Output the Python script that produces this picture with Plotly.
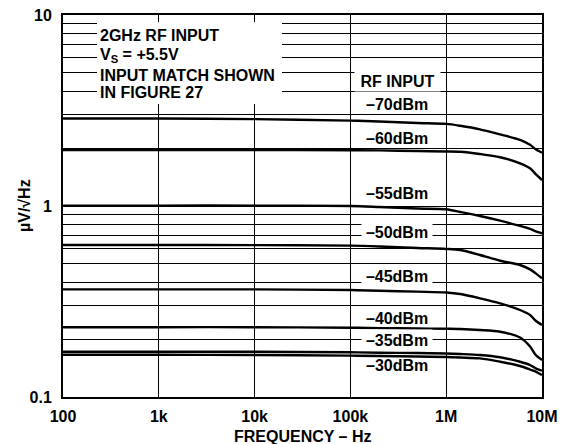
import plotly.graph_objects as go

# ---- data ----
freq_hz = [100, 1e3, 1e4, 1e5, 2e5, 5e5, 1e6, 1.4e6, 2.25e6, 3.65e6, 5.9e6, 7.5e6, 8.6e6, 1e7]

noise_m70 = [2.87, 2.87, 2.85, 2.80, 2.77, 2.72, 2.69, 2.63, 2.52, 2.37, 2.22, 2.09, 1.98, 1.90]
noise_m60 = [1.965, 1.965, 1.965, 1.96, 1.955, 1.94, 1.93, 1.924, 1.872, 1.80, 1.673, 1.576, 1.47, 1.368]
noise_m55 = [1.005, 1.005, 1.005, 1.0, 0.988, 0.97, 0.961, 0.93, 0.886, 0.838, 0.786, 0.758, 0.737, 0.72]
noise_m50 = [0.625, 0.625, 0.624, 0.62, 0.614, 0.603, 0.596, 0.588, 0.554, 0.517, 0.491, 0.466, 0.444, 0.418]
noise_m45 = [0.366, 0.366, 0.366, 0.363, 0.360, 0.356, 0.3525, 0.346, 0.3286, 0.3094, 0.2854, 0.2688, 0.2508, 0.2382]
noise_m40 = [0.232, 0.232, 0.232, 0.2306, 0.2295, 0.2284, 0.2276, 0.227, 0.2243, 0.2197, 0.2048, 0.1838, 0.166, 0.1562]
noise_m35 = [0.1726, 0.1726, 0.1724, 0.1714, 0.1706, 0.1699, 0.1689, 0.1679, 0.1659, 0.1614, 0.153, 0.1471, 0.1413, 0.1373]
noise_m30 = [0.1663, 0.1663, 0.166, 0.1647, 0.1638, 0.1629, 0.1619, 0.1609, 0.1594, 0.153, 0.1453, 0.1393, 0.1357, 0.1303]

series = [noise_m70, noise_m60, noise_m55, noise_m50, noise_m45, noise_m40, noise_m35, noise_m30]

x_tickvals = [100, 1e3, 1e4, 1e5, 1e6, 1e7]
x_ticktext = ["100", "1k", "10k", "100k", "1M", "10M"]
y_tickvals = [0.1, 1, 10]
y_ticktext = ["0.1", "1", "10"]
y_minorvals = [0.2, 0.3, 0.4, 0.5, 0.6, 0.7, 0.8, 0.9, 2, 3, 4, 5, 6, 7, 8, 9]

curve_labels = ["RF INPUT", "–70dBm", "–60dBm", "–55dBm", "–50dBm", "–45dBm", "–40dBm", "–35dBm", "–30dBm"]
cond_lines = ["2GHz RF INPUT", "V<sub>S</sub> = +5.5V", "INPUT MATCH SHOWN", "IN FIGURE 27"]

# ---- layout constants (page pixels; page body has an 8px margin) ----
OFF = 8
W, H = 566 - OFF, 444 - OFF
L, T = 63 - OFF, 15 - OFF
R = W - (542 - OFF)
B = H - (397 - OFF)
PW, PH = W - L - R, H - T - B
FONT = "Liberation Sans, Arial, sans-serif"


def px(x):
    return (x - OFF - L) / PW


def py(y):
    return (H - B - (y - OFF)) / PH


fig = go.Figure()
for s in series:
    fig.add_trace(go.Scatter(x=freq_hz, y=s, mode="lines",
                             line=dict(color="black", width=2.4, shape="spline", smoothing=0.8),
                             showlegend=False, hoverinfo="skip"))

label_y = [81, 104, 138, 193.8, 232, 275.7, 318, 339.7, 365.3]
label_bg = [True, False, False, False, True, True, False, True, False]
annotations = []
for txt, yy, bg in zip(curve_labels, label_y, label_bg):
    a = dict(text=txt, x=px(397), y=py(yy), xref="paper", yref="paper",
             xanchor="center", yanchor="middle", showarrow=False,
             font=dict(family=FONT, size=16, color="black", weight="bold"))
    if bg:
        a.update(bgcolor="white", borderpad=1, height=18,
                 width=83 if txt == "RF INPUT" else 68)
    annotations.append(a)

for txt, yy in zip(cond_lines, [35, 55, 75, 92.5]):
    annotations.append(dict(text=txt, x=px(98), y=py(yy), xref="paper", yref="paper",
                            xanchor="left", yanchor="middle", showarrow=False,
                            font=dict(family=FONT, size=16, color="black", weight="bold")))

annotations.append(dict(text="FREQUENCY – Hz", x=px(303), y=py(436), xref="paper", yref="paper",
                        xanchor="center", yanchor="middle", showarrow=False,
                        font=dict(family=FONT, size=16, color="black", weight="bold")))
annotations.append(dict(text="µV/√Hz", x=px(24), y=py(206), xref="paper", yref="paper",
                        xanchor="center", yanchor="middle", showarrow=False, textangle=-90,
                        font=dict(family=FONT, size=16, color="black", weight="bold")))

fig.update_layout(
    width=W, height=H,
    margin=dict(l=L, r=R, t=T, b=B, pad=0, autoexpand=False),
    paper_bgcolor="white", plot_bgcolor="white",
    annotations=annotations,
    shapes=[dict(type="rect", xref="paper", yref="paper",
                 x0=px(97), x1=px(282), y0=py(104), y1=py(22),
                 fillcolor="white", line=dict(width=0), layer="above")],
)
axis_common = dict(showgrid=True, gridcolor="black", gridwidth=1,
                   showline=True, linecolor="black", linewidth=2, mirror=True,
                   ticks="", zeroline=False, automargin=False, ticklabeloverflow="allow",
                   tickfont=dict(family=FONT, size=16, color="black", weight="bold"))
fig.update_xaxes(type="log", range=[2, 7], tickvals=x_tickvals, ticktext=x_ticktext,
                 ticklabelstandoff=4, **axis_common)
fig.update_yaxes(type="log", range=[-1, 1], tickvals=y_tickvals, ticktext=y_ticktext,
                 ticklabelstandoff=6,
                 minor=dict(tickvals=y_minorvals, showgrid=True, gridcolor="black",
                            gridwidth=1, ticks=""),
                 **axis_common)

fig.write_html("out.html")
